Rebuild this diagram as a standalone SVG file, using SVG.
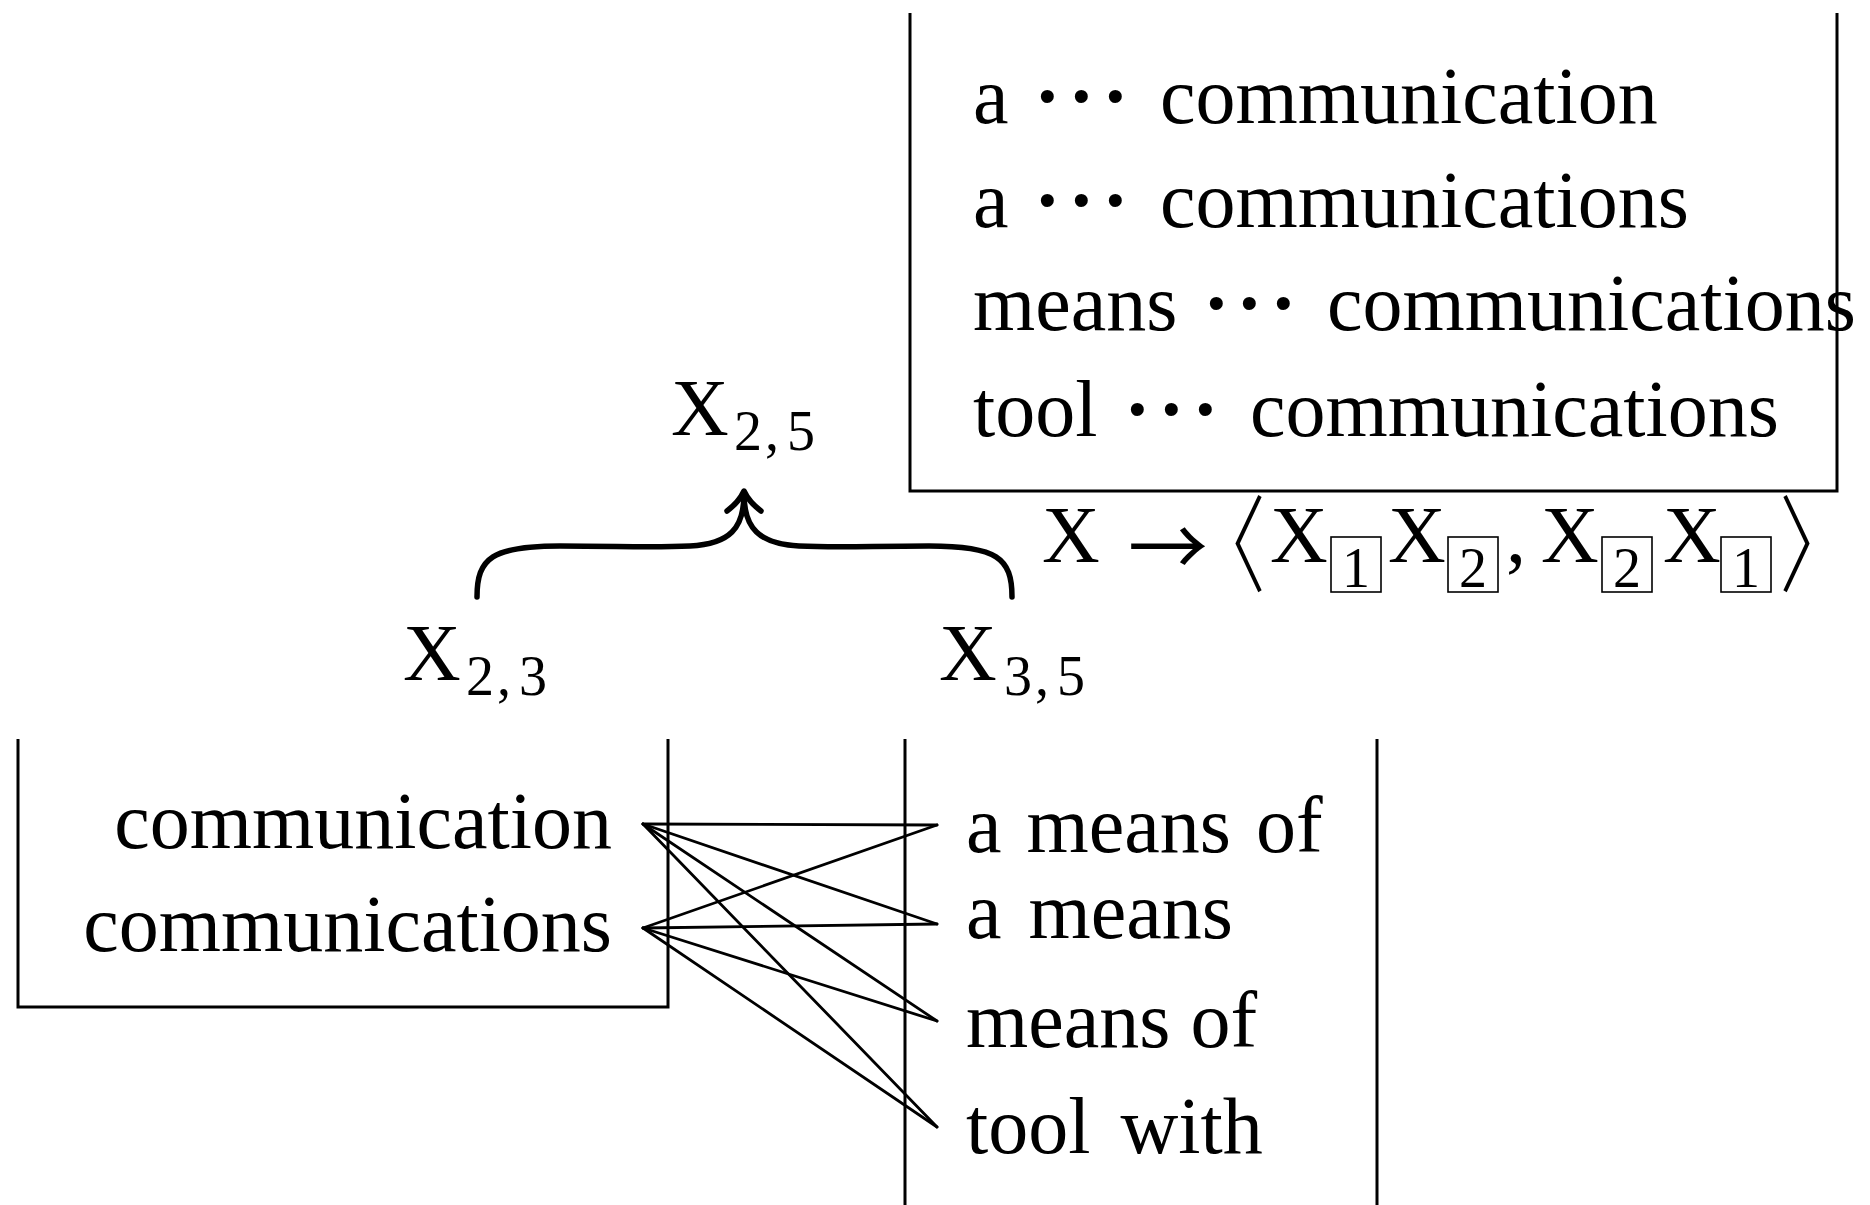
<svg xmlns="http://www.w3.org/2000/svg" width="1870" height="1205" viewBox="0 0 1870 1205">
<style>
.t{font-family:"Liberation Serif","Times New Roman",serif;font-size:80px;fill:#000}
.s{font-size:56px}
.dot{font-weight:bold}
.d{font-size:56px}
.arr{font-family:"Noto Sans CJK JP","DejaVu Sans",sans-serif;font-size:80px}
.ang{font-family:"DejaVu Serif",serif;font-size:110px}
.box{fill:none;stroke:#000;stroke-width:3}
.ib{fill:none;stroke:#000;stroke-width:1.6}
.ln{fill:none;stroke:#000;stroke-width:2.8;stroke-linecap:round}
.br{fill:none;stroke:#000;stroke-width:5.5;stroke-linecap:round;stroke-linejoin:round}
</style>
<rect width="1870" height="1205" fill="#fff"/>

<g id="rules-box">
<path class="box" d="M910,13 V491 H1837 V13"/>
<text class="t" x="973" y="123">a</text>
<text class="t dot" x="1034 1068 1102" y="123">···</text>
<text class="t" x="1160" y="123">communication</text>
<text class="t" x="973" y="227">a</text>
<text class="t dot" x="1034 1068 1102" y="227">···</text>
<text class="t" x="1160" y="227">communications</text>
<text class="t" x="973" y="330">means</text>
<text class="t dot" x="1203 1236 1270" y="330">···</text>
<text class="t" x="1327" y="330">communications</text>
<text class="t" x="973" y="436">tool</text>
<text class="t dot" x="1124 1158 1192" y="436">···</text>
<text class="t" x="1250" y="436">communications</text>
</g>

<g id="x25">
<text class="t" x="671" y="435">X</text>
<text class="t s" x="734 765 787" y="450">2,5</text>
</g>

<g id="x23">
<text class="t" x="403" y="680">X</text>
<text class="t s" x="466 497 519" y="695">2,3</text>
</g>

<g id="x35">
<text class="t" x="939" y="680">X</text>
<text class="t s" x="1004 1035 1057" y="695">3,5</text>
</g>

<g id="rule">
<rect class="ib" x="1331" y="537" width="50" height="55"/>
<rect class="ib" x="1448" y="537" width="50" height="55"/>
<rect class="ib" x="1602" y="537" width="50" height="55"/>
<rect class="ib" x="1721" y="537" width="50" height="55"/>
<text class="t"><tspan x="1042" y="562">X</tspan><tspan class="arr" x="1128" y="576">→</tspan><tspan class="ang" x="1166" y="583">〈</tspan><tspan x="1270" y="562">X</tspan><tspan class="d" x="1342" y="587">1</tspan><tspan x="1388" y="562">X</tspan><tspan class="d" x="1459" y="587">2</tspan><tspan x="1506" y="562">,</tspan><tspan x="1541" y="562">X</tspan><tspan class="d" x="1613" y="587">2</tspan><tspan x="1663" y="562">X</tspan><tspan class="d" x="1732" y="587">1</tspan><tspan class="ang" x="1769" y="583" letter-spacing="-60">〉</tspan></text>
</g>

<g id="source-box">
<path class="box" d="M18,739 V1007 H668 V739"/>
<text class="t" x="612" y="848" text-anchor="end">communication</text>
<text class="t" x="612" y="951" text-anchor="end">communications</text>
</g>

<g id="target-box">
<path class="box" d="M905,739 V1205 M1377,739 V1205"/>
<text class="t" x="966" y="852" word-spacing="5">a means of</text>
<text class="t" x="966" y="938" word-spacing="7">a means</text>
<text class="t" x="966" y="1047">means of</text>
<text class="t" x="966" y="1153" word-spacing="10">tool with</text>
</g>

<g id="connectors">
<path class="br" d="M477,597 C477,558 492,546 560,546 C620,546 650,548 690,546 C730,544 744,528 744,494"/>
<path class="br" d="M1012,597 C1012,558 997,546 929,546 C869,546 839,548 799,546 C759,544 744,528 744,494"/>
<path class="br" d="M727,511 Q739,502 744,491 Q749,502 761,511"/>
<line class="ln" x1="643" y1="824" x2="937" y2="825"/>
<line class="ln" x1="643" y1="824" x2="937" y2="924"/>
<line class="ln" x1="643" y1="824" x2="937" y2="1021"/>
<line class="ln" x1="643" y1="824" x2="937" y2="1127"/>
<line class="ln" x1="643" y1="928" x2="937" y2="825"/>
<line class="ln" x1="643" y1="928" x2="937" y2="924"/>
<line class="ln" x1="643" y1="928" x2="937" y2="1021"/>
<line class="ln" x1="643" y1="928" x2="937" y2="1127"/>
</g>
</svg>
